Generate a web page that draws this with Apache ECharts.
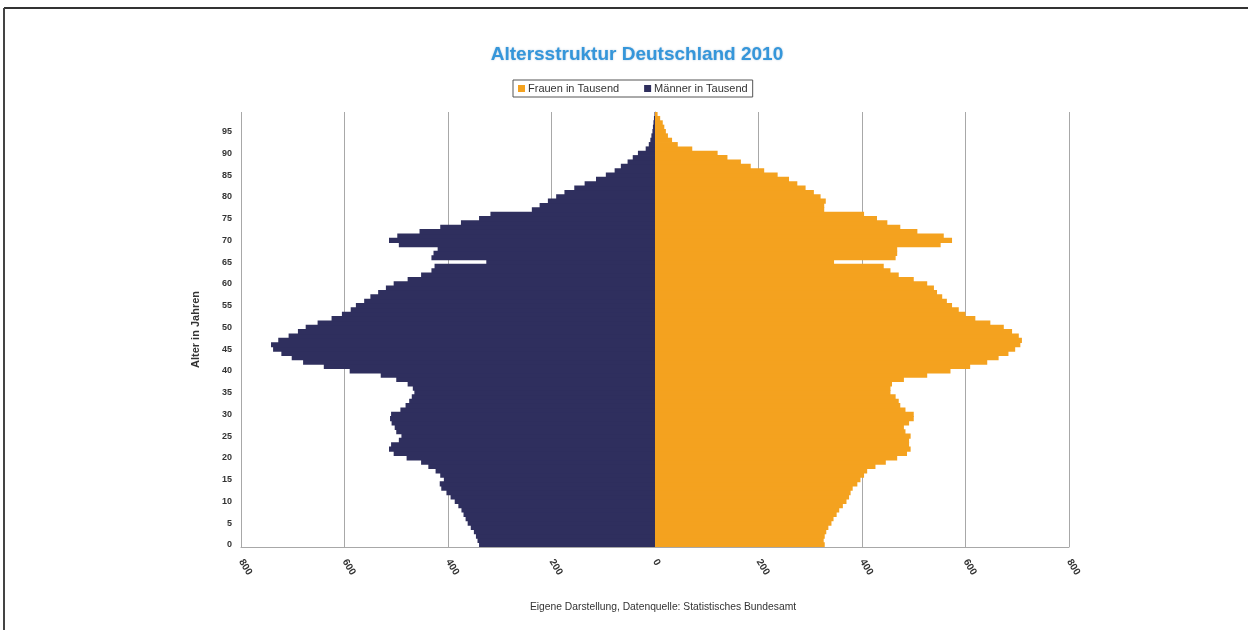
<!DOCTYPE html>
<html>
<head>
<meta charset="utf-8">
<title>Altersstruktur Deutschland 2010</title>
<script src="https://cdn.jsdelivr.net/npm/echarts@6/dist/echarts.min.js"></script>
<style>
  html, body { margin: 0; padding: 0; background: #ffffff; }
  #chart { width: 1248px; height: 630px; }
</style>
</head>
<body>
<div id="chart"></div>
<script>
// Age groups 0..99 years
const ages = Array.from({ length: 100 }, (_, i) => String(i));

// Population by single year of age, in thousands (index = age)
const maenner = [
  340, 343, 346, 350, 356, 362, 366, 370, 374, 380,
  387, 395, 403, 413, 416, 408, 415, 424, 438, 452,
  480, 505, 514, 510, 495, 490, 500, 503, 509, 512,
  510, 492, 482, 475, 470, 465, 468, 478, 500, 530,
  590, 640, 680, 702, 722, 738, 742, 728, 708, 690,
  675, 652, 625, 605, 588, 578, 562, 550, 535, 520,
  505, 478, 452, 432, 426, 326, 432, 428, 420, 495,
  514, 498, 455, 415, 375, 340, 318, 238, 223, 207,
  191, 175, 156, 136, 114, 95, 78, 66, 53, 43,
  33, 18, 12, 9, 7, 5, 4, 3, 2, 1
];

const frauen = [
  328, 326, 328, 331, 335, 341, 345, 351, 356, 363,
  370, 375, 378, 382, 391, 397, 404, 410, 426, 446,
  468, 487, 494, 491, 491, 494, 484, 481, 491, 500,
  500, 484, 474, 471, 465, 455, 455, 458, 481, 526,
  571, 609, 642, 664, 683, 696, 706, 709, 703, 690,
  674, 648, 619, 600, 587, 574, 564, 555, 545, 539,
  526, 500, 471, 455, 442, 346, 465, 468, 468, 552,
  574, 558, 507, 474, 449, 429, 404, 327, 327, 330,
  320, 307, 291, 275, 259, 237, 211, 185, 166, 140,
  121, 72, 44, 33, 25, 21, 18, 15, 10, 5
];

const xTicks = { min: -800, max: 800, step: 200 };

const COLOR_W = '#F4A21F';
const COLOR_M = '#2F2F5E';
const GRID_GRAY = '#a8a8a8';
const FONT = '"Liberation Sans", Arial, sans-serif';

const chart = echarts.init(document.getElementById('chart'), null, { renderer: 'canvas' });

chart.setOption({
  backgroundColor: '#ffffff',
  animation: false,
  textStyle: { fontFamily: FONT },
  title: [
    {
      text: 'Altersstruktur Deutschland 2010',
      left: 632,
      top: 40,
      textAlign: 'center',
      textStyle: {
        fontFamily: FONT,
        fontSize: 19,
        fontWeight: 'bold',
        color: '#3596da',
        textShadowColor: 'rgba(50,110,160,0.4)',
        textShadowBlur: 2
      }
    },
    {
      text: 'Eigene Darstellung, Datenquelle: Statistisches Bundesamt',
      left: 658,
      top: 597,
      textAlign: 'center',
      textStyle: {
        fontFamily: FONT,
        fontSize: 10.3,
        fontWeight: 'normal',
        color: '#333333'
      }
    }
  ],
  legend: {
    data: ['Frauen in Tausend', 'Männer in Tausend'],
    left: 513,
    top: 80,
    icon: 'rect',
    itemWidth: 7,
    itemHeight: 7,
    itemGap: 25,
    padding: [3, 5, 3, 5],
    borderColor: '#555555',
    borderWidth: 1,
    textStyle: { fontFamily: FONT, fontSize: 11, color: '#333333', padding: [0, 0, 0, -2] }
  },
  grid: {
    left: 241,
    right: 179,
    top: 112,
    bottom: 83,
    containLabel: false
  },
  xAxis: {
    type: 'value',
    min: xTicks.min,
    max: xTicks.max,
    interval: xTicks.step,
    axisLine: { show: true, onZero: false, lineStyle: { color: GRID_GRAY, width: 1 } },
    axisTick: { show: false },
    splitLine: { show: true, lineStyle: { color: GRID_GRAY, width: 1 } },
    axisLabel: {
      formatter: v => String(Math.abs(v)),
      rotate: -58,
      margin: 13,
      fontFamily: FONT,
      fontSize: 10,
      fontWeight: 'bold',
      color: '#333333'
    }
  },
  yAxis: {
    type: 'category',
    data: ages,
    name: 'Alter in Jahren',
    nameLocation: 'middle',
    nameRotate: 90,
    nameGap: 40,
    nameTextStyle: { fontFamily: FONT, fontSize: 11, fontWeight: 'bold', color: '#333333' },
    axisLine: { show: true, lineStyle: { color: GRID_GRAY, width: 1 } },
    axisTick: { show: false },
    splitLine: { show: false },
    axisLabel: {
      interval: 4,
      margin: 9,
      fontFamily: FONT,
      fontSize: 9,
      fontWeight: 'bold',
      color: '#333333'
    }
  },
  series: [
    {
      name: 'Männer in Tausend',
      type: 'bar',
      data: maenner.map(v => -v),
      barWidth: '118%',
      barGap: '-100%',
      itemStyle: { color: COLOR_M },
      z: 3
    },
    {
      name: 'Frauen in Tausend',
      type: 'bar',
      data: frauen,
      barWidth: '118%',
      barGap: '-100%',
      itemStyle: { color: COLOR_W },
      z: 3
    }
  ],
  graphic: [
    {
      type: 'line',
      shape: { x1: 4, y1: 8, x2: 1248, y2: 8 },
      style: { stroke: '#333333', lineWidth: 2 },
      silent: true
    },
    {
      type: 'line',
      shape: { x1: 4, y1: 8, x2: 4, y2: 630 },
      style: { stroke: '#444444', lineWidth: 2 },
      silent: true
    }
  ]
});
</script>
</body>
</html>
